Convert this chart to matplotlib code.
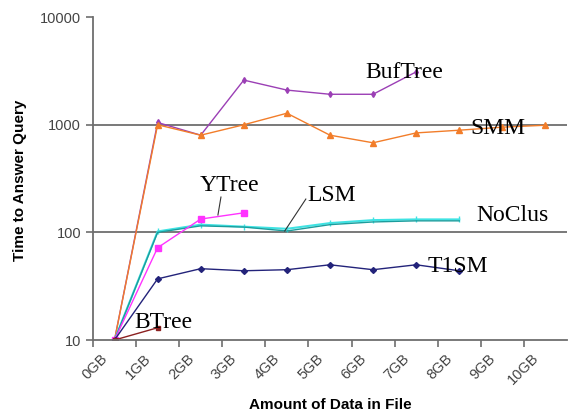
import numpy as np
import matplotlib
matplotlib.use("Agg")
import matplotlib.pyplot as plt
import matplotlib.transforms as mtransforms

# Query time (log scale) vs. amount of data in the file
sizes = ["0GB", "1GB", "2GB", "3GB", "4GB", "5GB", "6GB", "7GB", "8GB", "9GB", "10GB"]

btree = [10, 13]
buftree = [10, 1050, 800, 2600, 2100, 1920, 1920, 3100]
smm = [10, 1000, 800, 1000, 1280, 800, 680, 840, 890, 950, 990]
ytree = [10, 72, 133, 152]
lsm = [10, 100, 115, 112, 103, 118, 125, 128, 128]
noclus = [10, 102, 118, 113, 108, 122, 130, 132, 132]
t1sm = [10, 37, 46, 44, 45, 50, 45, 50, 44]

fig = plt.figure(figsize=(5.69, 4.15), dpi=100)
ax = fig.add_axes([0.1634, 0.1807, 0.833, 0.778])

def xs(vals):
    return np.arange(len(vals))

ax.plot(xs(buftree), buftree, color="#9b3fb5", lw=1.0, marker="d", ms=3)
ax.plot(xs(smm), smm, color="#f27d2a", lw=1.0, marker="^", ms=4)
ax.plot(xs(noclus), noclus, color="#3fe3e3", lw=1.5, marker="|", ms=4)
ax.plot(xs(lsm), lsm, color="#1c9c9c", lw=1.0)
ax.plot(xs(ytree), ytree, color="#ff33ff", lw=1.0, marker="s", ms=4)
ax.plot(xs(t1sm), t1sm, color="#23237a", lw=1.0, marker="D", ms=3)
ax.plot(xs(btree), btree, color="#8b2020", lw=1.0, marker="s", ms=3)

ax.set_yscale("log")
ax.set_ylim(10, 10000)
ax.set_xlim(-0.5, len(sizes) - 0.5)

for v in (100, 1000):
    ax.axhline(v, color="#6e6e6e", lw=1.3, zorder=0)

for s in ("top", "right"):
    ax.spines[s].set_visible(False)
for s in ("left", "bottom"):
    ax.spines[s].set_color("#6e6e6e")
    ax.spines[s].set_linewidth(1.3)

ax.set_yticks([10, 100, 1000, 10000])
ax.set_yticklabels(["10", "100", "1000", "10000"])
ax.yaxis.set_minor_locator(matplotlib.ticker.NullLocator())
ax.tick_params(axis="y", length=5, width=1.2, color="#6e6e6e", labelsize=10.5,
               labelcolor="#444444", pad=3.5)

ax.set_xticks(np.arange(len(sizes)))
ax.set_xticklabels(sizes, rotation=45, ha="right", rotation_mode="anchor", fontsize=10.5,
                   color="#444444")
ax.tick_params(axis="x", which="major", length=0, pad=8)
ax.set_xticks(np.arange(len(sizes)) - 0.5, minor=True)
ax.tick_params(axis="x", which="minor", length=5, width=1.2, color="#6e6e6e")

shift = mtransforms.ScaledTranslation(-0.14, 0, fig.dpi_scale_trans)
for lab in ax.get_xticklabels():
    lab.set_transform(lab.get_transform() + shift)
for lab in ax.get_xticklabels() + ax.get_yticklabels():
    lab.set_family("Liberation Sans")

fig.text(0.58, 0.024, "Amount of Data in File", family="Liberation Sans", fontweight="bold",
         fontsize=11, ha="center", va="center")
fig.text(0.035, 0.566, "Time to Answer Query", family="Liberation Sans", fontweight="bold",
         fontsize=11, ha="center", va="center", rotation=90)

serif = dict(family="Liberation Serif", fontsize=17, color="black", va="center")
ax.text(5.81, 3080, "BufTree", **serif)
ax.text(8.25, 930, "SMM", **serif)
ax.text(1.98, 275, "YTree", **serif)
ax.text(4.47, 222, "LSM", **serif)
ax.text(8.39, 142, "NoClus", **serif)
ax.text(7.27, 47.7, "T1SM", **serif)
ax.text(0.47, 14.4, "BTree", **serif)

# leader lines from the labels to their curves
ax.plot([2.47, 2.40], [213, 145], color="#333333", lw=0.8)
ax.plot([4.44, 3.95], [204, 103], color="#333333", lw=0.8)

fig.savefig("out.png", dpi=100)
